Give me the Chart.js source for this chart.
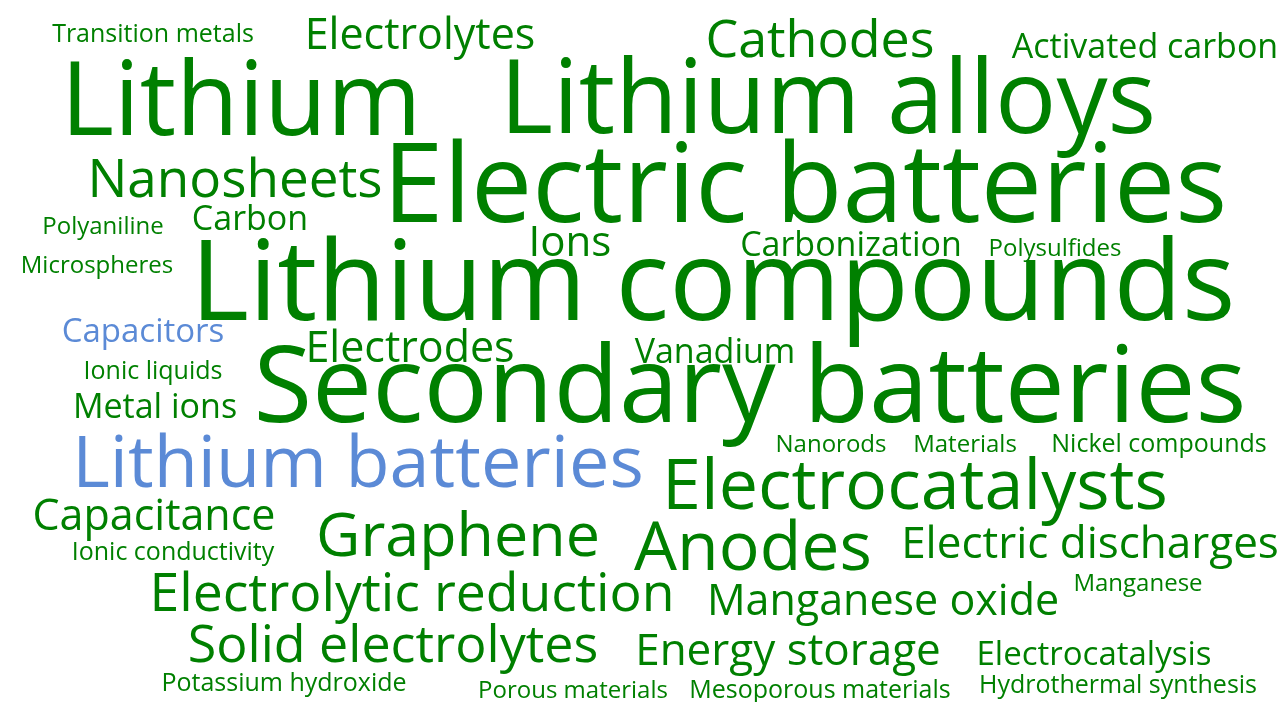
<!DOCTYPE html>
<html>
<head>
<meta charset="utf-8">
<script src="https://cdn.jsdelivr.net/npm/chart.js@4"></script>
<style>
  html, body { margin: 0; padding: 0; background: #fff; }
  #wrap { width: 1283px; height: 702px; }
</style>
</head>
<body>
<div id="wrap"><canvas id="cloudChart"></canvas></div>
<script>
// keyword cloud: term, weight, and where the term sits on the 1283 x 702 board
var words = [
  'Transition metals', 'Electrolytes', 'Cathodes', 'Activated carbon',
  'Lithium', 'Lithium alloys', 'Nanosheets', 'Electric batteries',
  'Polyaniline', 'Carbon', 'Ions', 'Carbonization', 'Polysulfides',
  'Microspheres', 'Lithium compounds', 'Capacitors', 'Electrodes',
  'Vanadium', 'Ionic liquids', 'Secondary batteries', 'Metal ions',
  'Nanorods', 'Materials', 'Nickel compounds', 'Lithium batteries',
  'Electrocatalysts', 'Capacitance', 'Graphene', 'Anodes',
  'Electric discharges', 'Ionic conductivity', 'Electrolytic reduction',
  'Manganese', 'Manganese oxide', 'Solid electrolytes', 'Energy storage',
  'Electrocatalysis', 'Potassium hydroxide', 'Porous materials',
  'Mesoporous materials', 'Hydrothermal synthesis'
];
var weights = [
  25, 43, 52, 34,
  102, 102, 53, 109,
  24, 34, 42, 34, 24,
  24, 112, 33, 43,
  34, 25, 107, 34,
  24, 24, 25, 72,
  70, 43, 61, 68,
  44, 25, 53.5,
  24, 43, 52, 44,
  33, 25, 24,
  25, 25
];
var posX = [
  153, 420, 820, 1145,
  241, 828, 235, 805,
  103, 250, 570, 851, 1055,
  97, 713, 143, 410,
  715, 153, 750, 155,
  831, 965, 1159, 358,
  915, 154, 458, 753,
  1090, 173, 412,
  1138, 883, 393, 788,
  1094, 284, 573,
  820, 1118
];
var posY = [
  42, 49, 57, 58,
  135, 133, 197, 222,
  234, 230, 256, 256, 256,
  273, 320, 342, 362,
  363, 379, 422, 418,
  452, 452, 452, 487,
  509, 530, 556, 570,
  558, 560, 611,
  591, 615, 662, 665,
  665, 691, 698,
  698, 693
];
// only two terms are highlighted in blue
var blueTerms = ['Capacitors', 'Lithium batteries'];

var GREEN = '#008000';
var BLUE = '#5b8ad6';

var points = [];
for (var i = 0; i < words.length; i++) {
  points.push({ x: posX[i], y: posY[i] });
}

var wordPlugin = {
  id: 'wordPlugin',
  afterDatasetsDraw: function (chart) {
    var ctx = chart.ctx;
    var meta = chart.getDatasetMeta(0);
    ctx.save();
    ctx.textAlign = 'center';
    ctx.textBaseline = 'alphabetic';
    meta.data.forEach(function (el, i) {
      ctx.font = weights[i] + 'px "Open Sans"';
      ctx.fillStyle = blueTerms.indexOf(words[i]) >= 0 ? BLUE : GREEN;
      ctx.fillText(words[i], el.x, el.y);
    });
    ctx.restore();
  }
};

const config = {
  type: 'scatter',
  data: {
    labels: words,
    datasets: [{
      data: points,
      pointRadius: 0,
      pointHoverRadius: 0
    }]
  },
  options: {
    responsive: true,
    maintainAspectRatio: false,
    animation: false,
    layout: { padding: 0 },
    plugins: {
      legend: { display: false },
      tooltip: { enabled: false }
    },
    scales: {
      x: { type: 'linear', min: 0, max: 1283, display: false },
      y: { type: 'linear', min: 0, max: 702, reverse: true, display: false }
    }
  },
  plugins: [wordPlugin]
};

const cloudChart = new Chart(document.getElementById('cloudChart'), config);
</script>
</body>
</html>
